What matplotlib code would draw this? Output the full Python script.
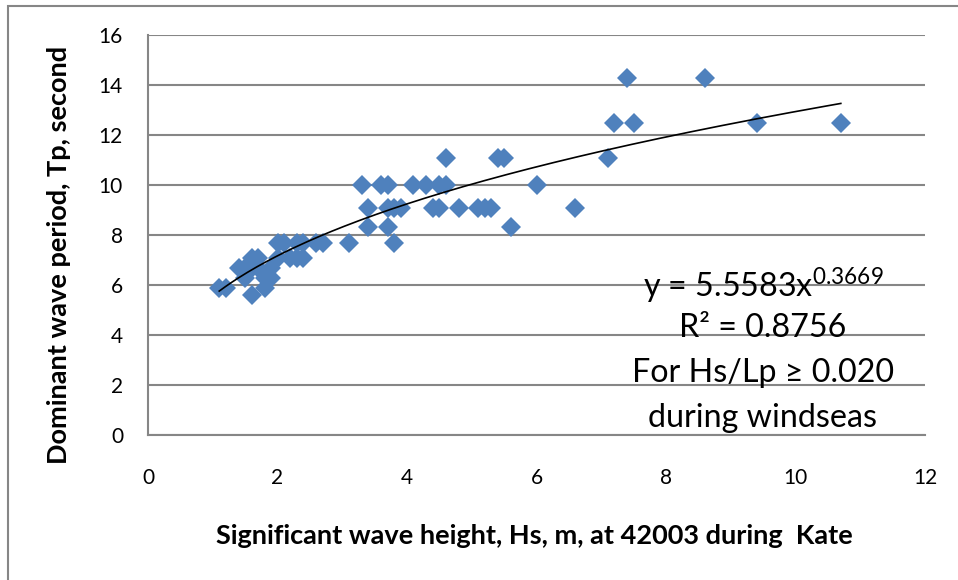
import numpy as np
import matplotlib.pyplot as plt
from matplotlib.patches import Rectangle

plt.rcParams['font.family'] = ['Lato', 'DejaVu Sans']
plt.rcParams['mathtext.fontset'] = 'custom'
plt.rcParams['mathtext.rm'] = 'Lato'

# Hs (m) and Tp (s)
hs = [1.1, 1.2, 1.4, 1.5, 1.5, 1.6, 1.6, 1.6, 1.7, 1.7, 1.8, 1.8, 1.9, 1.9,
      2.0, 2.0, 2.1, 2.2, 2.3, 2.3, 2.4, 2.4, 2.6, 2.7, 3.1,
      3.3, 3.4, 3.4, 3.6, 3.7, 3.7, 3.7, 3.8, 3.8, 3.9, 4.1, 4.3, 4.4, 4.5,
      4.5, 4.6, 4.6, 4.8, 5.1, 5.2, 5.3, 5.4, 5.5, 5.6, 6.0, 6.6,
      7.1, 7.2, 7.4, 7.5, 8.6, 9.4, 10.7]
tp = [5.9, 5.9, 6.7, 6.3, 6.7, 7.1, 5.6, 6.7, 7.1, 6.7, 5.9, 6.3, 6.3, 6.7,
      7.7, 7.1, 7.7, 7.1, 7.7, 7.1, 7.7, 7.1, 7.7, 7.7, 7.7,
      10.0, 9.1, 8.3, 10.0, 10.0, 9.1, 8.3, 9.1, 7.7, 9.1, 10.0, 10.0, 9.1, 10.0,
      9.1, 10.0, 11.1, 9.1, 9.1, 9.1, 9.1, 11.1, 11.1, 8.3, 10.0, 9.1,
      11.1, 12.5, 14.3, 12.5, 14.3, 12.5, 12.5]

# power trendline shown on the chart
coef_a = 5.5583
coef_b = 0.3669
r2 = 0.8756

fig = plt.figure(figsize=(9.58, 5.8), dpi=100)
fig.patches.append(Rectangle((8/958, -0.1), 1.2, 0.1 + 1 - 6/580,
                             transform=fig.transFigure, fill=False,
                             edgecolor='#868686', linewidth=1.5))
ax = fig.add_axes([148/958, 1 - 435/580, (925 - 148)/958, 400/580])

ax.plot(hs, tp, linestyle='none', marker='D', markersize=10.2,
        color='#4F81BD', markeredgewidth=0, zorder=3)

xf = np.linspace(min(hs), max(hs), 200)
ax.plot(xf, coef_a * xf ** coef_b, color='black', linewidth=1.2, zorder=4)

ax.set_xlim(0, 12)
ax.set_ylim(0, 16)
ax.set_xticks(range(0, 13, 2))
ax.set_yticks(range(0, 17, 2))
ax.grid(axis='y', color='#868686', linewidth=1.5, zorder=0)
ax.set_axisbelow(True)
for s in ['top', 'right']:
    ax.spines[s].set_visible(False)
for s in ['left', 'bottom']:
    ax.spines[s].set_color('#868686')
    ax.spines[s].set_linewidth(1.5)
ax.tick_params(axis='both', length=0, labelsize=15)
ax.tick_params(axis='x', pad=24)
ax.tick_params(axis='y', pad=18)

ax.set_xlabel('Significant wave height, Hs, m, at 42003 during  Kate',
              fontsize=19.5, fontweight='bold')
ax.set_ylabel('Dominant wave period, Tp, second',
              fontsize=19.5, fontweight='bold')
ax.xaxis.set_label_coords(0.497, -0.223)
ax.yaxis.set_label_coords(-0.099, 0.45)

tx = 763
fs = 23.2
ax.text(tx/958, 1 - 285/580, 'y = %.4fx$^{\\mathregular{%.4f}}$' % (coef_a, coef_b),
        transform=fig.transFigure, ha='center', va='center', fontsize=fs)
ax.text(tx/958, 1 - 328/580, 'R² = %.4f' % r2,
        transform=fig.transFigure, ha='center', va='center', fontsize=fs)
ax.text(tx/958, 1 - 373/580, 'For Hs/Lp ≥ 0.020',
        transform=fig.transFigure, ha='center', va='center', fontsize=fs)
ax.text(tx/958, 1 - 418/580, 'during windseas',
        transform=fig.transFigure, ha='center', va='center', fontsize=fs)

fig.savefig('out.png', dpi=100)
